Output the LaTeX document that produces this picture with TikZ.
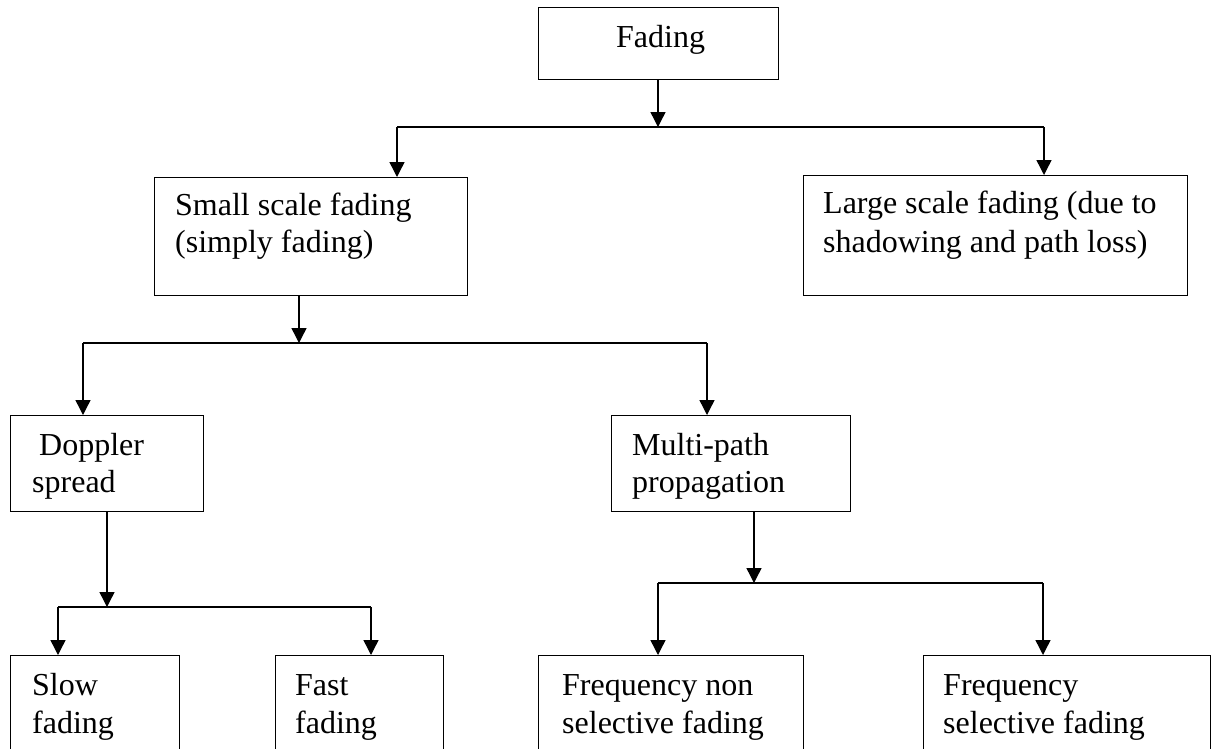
\documentclass[tikz,border=0pt]{standalone}
\usepackage{fontspec}
\setmainfont{Liberation Serif}
\usetikzlibrary{arrows.meta}
\begin{document}
\begin{tikzpicture}[x=1pt,y=-1pt,
  box/.style={draw, line width=1.4pt, inner sep=0pt, anchor=north west},
  lbl/.style={inner sep=0pt, anchor=base west, font=\fontsize{32}{37}\selectfont},
  link/.style={line width=1.4pt},
  arr/.style={link, -{Triangle[length=15pt,width=15pt]}}]
\clip (0,0) rectangle (1211,748);

% boxes
\node[box, minimum width=240pt, minimum height=72pt]  (fading)  at (538,7)   {};
\node[box, minimum width=313pt, minimum height=118pt] (small)   at (154,177) {};
\node[box, minimum width=384pt, minimum height=120pt] (large)   at (803,175) {};
\node[box, minimum width=193pt, minimum height=96pt]  (doppler) at (10,415)  {};
\node[box, minimum width=239pt, minimum height=96pt]  (multi)   at (611,415) {};
\node[box, minimum width=169pt, minimum height=130pt] (slow)    at (10,655)  {};
\node[box, minimum width=168pt, minimum height=130pt] (fast)    at (275,655) {};
\node[box, minimum width=265pt, minimum height=130pt] (fnon)    at (538,655) {};
\node[box, minimum width=287pt, minimum height=130pt] (fsel)    at (923,655) {};

% labels
\node[lbl] (t0)  at (616,47)  {Fading};
\node[lbl] (t1a) at (175,215) {Small scale fading};
\node[lbl] (t1b) at (175,252) {(simply fading)};
\node[lbl] (t2a) at (823,213) {Large scale fading (due to};
\node[lbl] (t2b) at (823,252) {shadowing and path loss)};
\node[lbl] (t3a) at (39,455)  {Doppler};
\node[lbl] (t3b) at (32,492)  {spread};
\node[lbl] (t4a) at (632,455) {Multi-path};
\node[lbl] (t4b) at (632,492) {propagation};
\node[lbl] (t5a) at (32,695)  {Slow};
\node[lbl] (t5b) at (32,733)  {fading};
\node[lbl] (t6a) at (295,695) {Fast};
\node[lbl] (t6b) at (295,733) {fading};
\node[lbl] (t7a) at (562,695) {Frequency non};
\node[lbl] (t7b) at (562,733) {selective fading};
\node[lbl] (t8a) at (943,695) {Frequency};
\node[lbl] (t8b) at (943,733) {selective fading};

% branch points
\coordinate (j0)  at (658,127);
\coordinate (j0l) at (397,127);
\coordinate (j0r) at (1044,127);
\coordinate (j1)  at (299,343);
\coordinate (j1l) at (83,343);
\coordinate (j1r) at (707,343);
\coordinate (j2)  at (107,607);
\coordinate (j2l) at (58,607);
\coordinate (j2r) at (371,607);
\coordinate (j3)  at (754,583);
\coordinate (j3l) at (658,583);
\coordinate (j3r) at (1043,583);

% connectors
\draw[arr]  (fading.south -| j0) -- (j0);
\draw[link] (j0l) -- (j0r);
\draw[arr]  (j0l) -- (j0l |- small.north);
\draw[arr]  (j0r) -- (j0r |- large.north);

\draw[arr]  (small.south -| j1) -- (j1);
\draw[link] (j1l) -- (j1r);
\draw[arr]  (j1l) -- (j1l |- doppler.north);
\draw[arr]  (j1r) -- (j1r |- multi.north);

\draw[arr]  (doppler.south -| j2) -- (j2);
\draw[link] (j2l) -- (j2r);
\draw[arr]  (j2l) -- (j2l |- slow.north);
\draw[arr]  (j2r) -- (j2r |- fast.north);

\draw[arr]  (multi.south -| j3) -- (j3);
\draw[link] (j3l) -- (j3r);
\draw[arr]  (j3l) -- (j3l |- fnon.north);
\draw[arr]  (j3r) -- (j3r |- fsel.north);
\end{tikzpicture}
\end{document}
